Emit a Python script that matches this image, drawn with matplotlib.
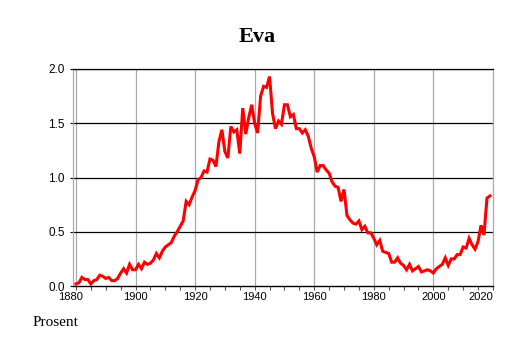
import numpy as np
import matplotlib.pyplot as plt
import matplotlib.transforms as mtransforms
from matplotlib.ticker import MultipleLocator, FormatStrFormatter

# share of girls named Eva, per year
years = list(range(1880, 2020))
percent = [
    0.02, 0.03, 0.08, 0.06, 0.06, 0.02, 0.05, 0.06, 0.10, 0.09,  # 1880s
    0.07, 0.08, 0.05, 0.05, 0.07, 0.12, 0.16, 0.12, 0.20, 0.15,  # 1890s
    0.15, 0.20, 0.16, 0.22, 0.20, 0.21, 0.24, 0.30, 0.26, 0.32,  # 1900s
    0.36, 0.38, 0.40, 0.46, 0.50, 0.55, 0.60, 0.78, 0.75, 0.82,  # 1910s
    0.88, 0.98, 1.00, 1.06, 1.05, 1.17, 1.16, 1.10, 1.33, 1.44,  # 1920s
    1.24, 1.18, 1.47, 1.42, 1.44, 1.22, 1.64, 1.40, 1.55, 1.67,  # 1930s
    1.50, 1.41, 1.75, 1.84, 1.83, 1.93, 1.59, 1.45, 1.52, 1.49,  # 1940s
    1.67, 1.67, 1.56, 1.58, 1.45, 1.45, 1.41, 1.44, 1.38, 1.27,  # 1950s
    1.19, 1.05, 1.11, 1.11, 1.07, 1.04, 0.96, 0.92, 0.91, 0.78,  # 1960s
    0.89, 0.65, 0.61, 0.58, 0.57, 0.60, 0.52, 0.55, 0.49, 0.49,  # 1970s
    0.44, 0.38, 0.42, 0.32, 0.31, 0.30, 0.22, 0.22, 0.26, 0.21,  # 1980s
    0.19, 0.15, 0.20, 0.14, 0.16, 0.18, 0.13, 0.14, 0.15, 0.14,  # 1990s
    0.12, 0.16, 0.18, 0.20, 0.26, 0.19, 0.25, 0.25, 0.29, 0.29,  # 2000s
    0.36, 0.35, 0.44, 0.38, 0.34, 0.41, 0.56, 0.47, 0.81, 0.83,  # 2010s
]
title = "Eva"
ylabel = "Prosent"
xticks = [1880, 1900, 1920, 1940, 1960, 1980, 2000, 2020]
yticks = [0.0, 0.5, 1.0, 1.5, 2.0]

fig = plt.figure(figsize=(5.14, 3.43), dpi=100)
ax = fig.add_axes([0.142, 0.166, 0.817, 0.633])

# grid: grey verticals, black horizontals
for x in xticks[:-1]:
    ax.axvline(x, color="#aaaaaa", lw=0.9, zorder=1)
for y in yticks[1:]:
    ax.axhline(y, color="black", lw=0.9, zorder=1)

ax.plot(years, percent, color="#ff0000", lw=2.2, solid_joinstyle="miter", zorder=3)

ax.set_xlim(1879, 2020)
ax.set_ylim(0, 2.0)
ax.set_xticks(xticks)
ax.xaxis.set_minor_locator(MultipleLocator(5))
ax.set_yticks(yticks)
ax.yaxis.set_major_formatter(FormatStrFormatter("%.1f"))

for side in ["left", "right"]:
    ax.spines[side].set_color("#aaaaaa")
    ax.spines[side].set_linewidth(0.9)
ax.spines["top"].set_color("black")
ax.spines["top"].set_linewidth(0.9)
ax.spines["bottom"].set_linewidth(1.0)

ax.tick_params(axis="x", which="both", length=3, width=0.8, color="#555555",
               labelsize=8, pad=1, labelfontfamily="Liberation Sans")
ax.tick_params(axis="y", length=2, width=0.8, labelsize=8.5, pad=4,
               labelfontfamily="Liberation Sans")

# keep the outer year labels inside the plot edges, as in the reference
fig.canvas.draw()
labels = ax.get_xticklabels()
labels[-1].set_horizontalalignment("right")
labels[-1].set_transform(labels[-1].get_transform()
                         + mtransforms.ScaledTranslation(0.0, 0, fig.dpi_scale_trans))
labels[0].set_transform(labels[0].get_transform()
                        + mtransforms.ScaledTranslation(-0.05, 0, fig.dpi_scale_trans))

fig.text(0.5, 0.893, title, ha="center", va="center", fontsize=16,
         fontweight="bold", family="Liberation Serif")
fig.text(0.064, 0.05, ylabel, ha="left", va="baseline", fontsize=11,
         family="Liberation Serif")

fig.savefig("out.png", dpi=100)
